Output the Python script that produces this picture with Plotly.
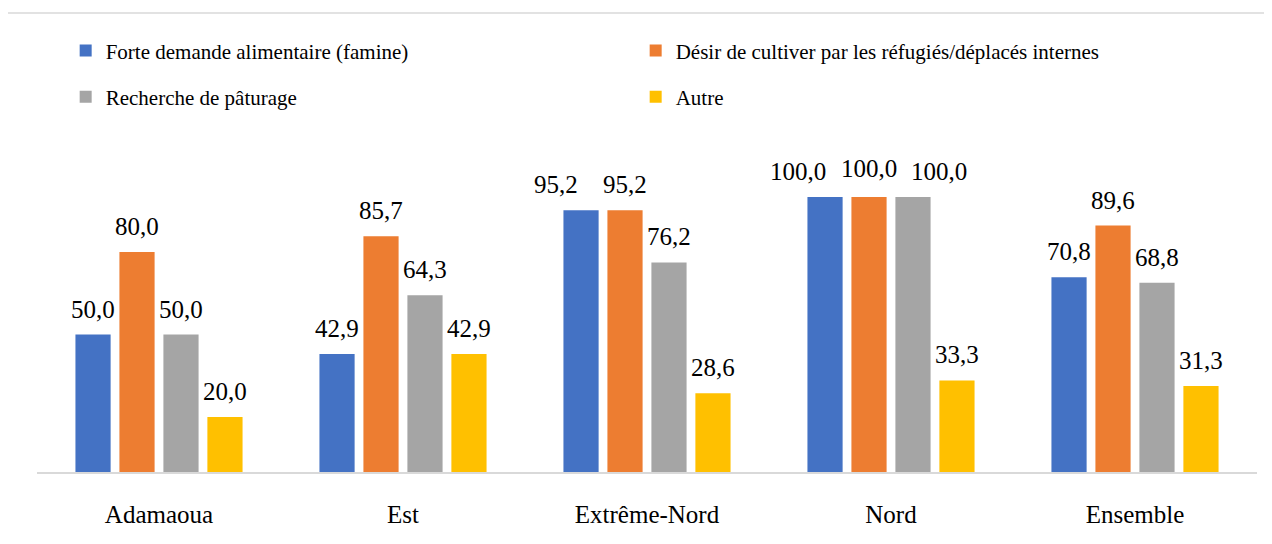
import plotly.graph_objects as go

regions = ["Adamaoua", "Est", "Extrême-Nord", "Nord", "Ensemble"]

series_names = [
    "Forte demande alimentaire (famine)",
    "Désir de cultiver par les réfugiés/déplacés internes",
    "Recherche de pâturage",
    "Autre",
]
famine = [50.0, 42.9, 95.2, 100.0, 70.8]
cultiver = [80.0, 85.7, 95.2, 100.0, 89.6]
paturage = [50.0, 64.3, 76.2, 100.0, 68.8]
autre = [20.0, 42.9, 28.6, 33.3, 31.3]

colors = ["#4472C4", "#ED7D31", "#A5A5A5", "#FFC000"]
legend_ids = ["legend", "legend", "legend2", "legend2"]
serif = "Times New Roman"

fig = go.Figure()
all_values = [famine, cultiver, paturage, autre]
for name, vals, col, lg in zip(series_names, all_values, colors, legend_ids):
    fig.add_trace(go.Bar(
        x=regions,
        y=vals,
        name=name,
        legend=lg,
        marker=dict(color=col, line=dict(width=0)),
    ))

# data labels above each bar, nudged sideways where neighbours would collide
slot = 44
nudges = {(0, "Extrême-Nord"): (-25, 0), (0, "Nord"): (-27, 0),
          (1, "Nord"): (0, 3), (2, "Nord"): (26, 0)}
for i, vals in enumerate(all_values):
    for reg, v in zip(regions, vals):
        dx, dy = nudges.get((i, reg), (0, 0))
        fig.add_annotation(
            x=reg, y=v, xref="x", yref="y",
            text=f"{v:.1f}".replace(".", ","),
            showarrow=False,
            xshift=(i - 1.5) * slot + dx,
            yanchor="bottom",
            yshift=10 + dy,
            font=dict(size=25, color="black", family=serif),
        )

# light border around the chart area
fig.add_shape(
    type="rect", xref="paper", yref="paper",
    x0=-0.0246, x1=1.03, y0=-0.35, y1=1.391,
    line=dict(color="#D9D9D9", width=1.5),
)

legend_style = dict(
    orientation="h",
    x=0.0235, xanchor="left",
    yanchor="middle",
    entrywidth=525, entrywidthmode="pixels",
    font=dict(size=21, family=serif, color="black"),
    traceorder="normal",
    bgcolor="rgba(0,0,0,0)",
)

fig.update_layout(
    width=1272,
    height=544,
    margin=dict(l=29, r=23, t=134, b=80),
    paper_bgcolor="white",
    plot_bgcolor="white",
    barmode="group",
    bargap=0.279,
    bargroupgap=0.2,
    showlegend=True,
    legend=dict(legend_style, y=1.276),
    legend2=dict(legend_style, y=1.136),
    xaxis=dict(
        showline=True, linecolor="#D9D9D9", linewidth=2,
        ticks="", showgrid=False,
        ticklabelstandoff=19,
        tickfont=dict(size=25, family=serif, color="black"),
    ),
    yaxis=dict(
        range=[0, 120], visible=False, showgrid=False, zeroline=False,
    ),
)

fig.write_html("out.html")
